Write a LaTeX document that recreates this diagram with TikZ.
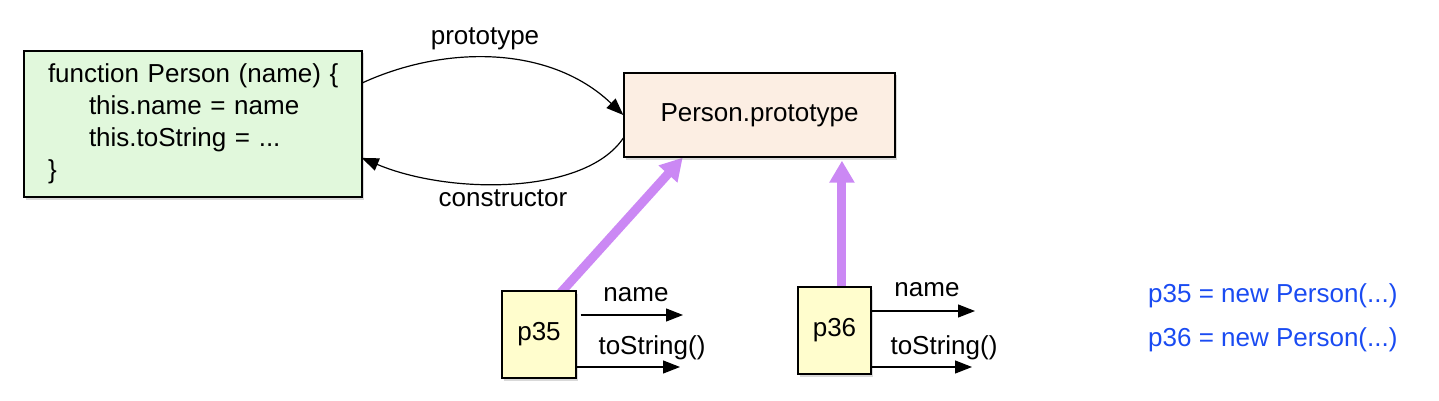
\documentclass[tikz,border=0pt]{standalone}
\usepackage{fontspec}
\setmainfont{Liberation Sans}
\usetikzlibrary{arrows.meta,shadows,calc}
\definecolor{fngreen}{HTML}{E1F8DC}
\definecolor{protofill}{HTML}{FCEEE3}
\definecolor{objfill}{HTML}{FFFDCD}
\definecolor{linkpurple}{HTML}{CB88F4}
\definecolor{codeblue}{HTML}{1A4BF2}
\pgfdeclarelayer{bg}
\pgfsetlayers{bg,main}
\hbadness=10000 \hfuzz=100pt
\tikzset{
  box/.style={draw=black, line width=1.4pt, inner sep=0pt,
    drop shadow={shadow xshift=2pt, shadow yshift=-2.5pt, opacity=0.3}},
  lbl/.style={inner sep=0pt, font=\fontsize{26}{31}\selectfont},
  thinarrow/.style={draw=black, line width=1.2pt, -{Triangle[length=17pt,width=13pt]}},
  protolink/.style={draw=linkpurple, line width=9pt, -{Triangle[length=22pt,width=24pt]}},
}
\begin{document}
\begin{tikzpicture}[x=1pt,y=-1pt]
\useasboundingbox (0,0) rectangle (1439,401);
% boxes
\node[box, fill=fngreen, minimum width=338pt, minimum height=146pt,
  text width=290pt, align=left, font=\fontsize{26}{32}\selectfont]
  (fn) at (193,124) {\mbox{function Person (name) \{}\\\hspace*{41pt}this.name = name\\\hspace*{41pt}this.toString = ...\\\}};
\node[box, fill=protofill, minimum width=271pt, minimum height=84pt,
  font=\fontsize{26}{31}\selectfont] (proto) at (759.5,115) {Person.prototype};
\node[box, fill=objfill, minimum width=74pt, minimum height=87pt,
  font=\fontsize{26}{31}\selectfont] (p35) at (539,334.5) {p35};
\node[box, fill=objfill, minimum width=73pt, minimum height=87pt,
  font=\fontsize{26}{31}\selectfont] (p36) at (834.5,330.5) {p36};
% purple prototype links
\coordinate (a35) at ($(p35.north west)!0.81!(p35.north east)$);
\coordinate (a36) at ($(p36.north west)!0.6!(p36.north east)$);
\coordinate (b35) at ($(proto.south west)!0.218!(proto.south east)$);
\coordinate (b36) at ($(a36 |- proto.south)+(0,3)$);
\begin{pgfonlayer}{bg}
\draw[protolink] ($(a35)+(-4,5)$) -- (b35);
\draw[protolink] ($(a36)+(0,5)$) -- (b36);
\end{pgfonlayer}
% prototype / constructor curves
\draw[thinarrow] ($(fn.north east)!0.22!(fn.south east)$) .. controls (445,45) and (550,45) .. (proto.west);
\draw[thinarrow] ($(proto.north west)!0.77!(proto.south west)$) .. controls (585,195) and (450,195) .. ($(fn.north east)!0.73!(fn.south east)+(-1,0)$);
\node[lbl] (lproto) at (485,39) {prototype};
\node[lbl] (lcons) at (503,198) {constructor};
% property arrows
\coordinate (n35) at (683,315);
\coordinate (t35) at (680,367);
\coordinate (n36) at (975,311);
\coordinate (t36) at (972,367);
\draw[thinarrow] (p35.east |- n35) ++(4,0) -- (n35);
\draw[thinarrow] (p35.east |- t35) -- (t35);
\draw[thinarrow] (p36.east |- n36) -- (n36);
\draw[thinarrow] (p36.east |- t36) -- (t36);
\node[lbl] (ln35) at (636,295) {name};
\node[lbl] (lt35) at (652,348) {toString()};
\node[lbl] (ln36) at (927,290) {name};
\node[lbl] (lt36) at (944,348) {toString()};
% code
\node[lbl, anchor=west, text=codeblue] (c35) at (1148,296) {p35 = new Person(...)};
\node[lbl, anchor=west, text=codeblue] (c36) at (1148,340) {p36 = new Person(...)};
\end{tikzpicture}
\end{document}
